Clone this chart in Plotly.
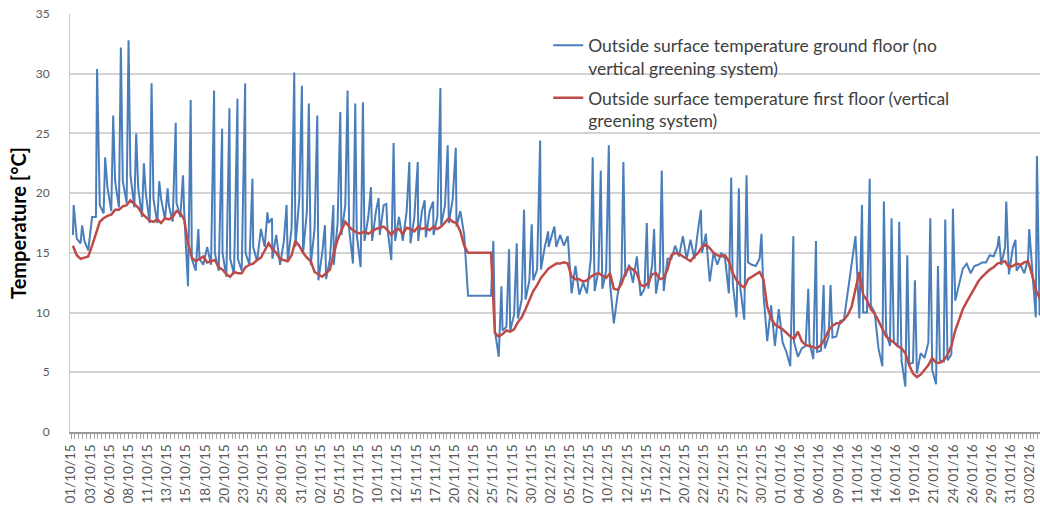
import plotly.graph_objects as go

# Category labels shown every 2.5 days along the time axis
tick_labels = [
    "01/10/15", "03/10/15", "06/10/15", "08/10/15", "11/10/15", "13/10/15", "15/10/15",
    "18/10/15", "20/10/15", "23/10/15", "25/10/15", "28/10/15", "31/10/15", "02/11/15",
    "05/11/15", "07/11/15", "10/11/15", "12/11/15", "15/11/15", "17/11/15", "20/11/15",
    "22/11/15", "25/11/15", "27/11/15", "30/11/15", "02/12/15", "05/12/15", "07/12/15",
    "10/12/15", "12/12/15", "15/12/15", "17/12/15", "20/12/15", "22/12/15", "25/12/15",
    "27/12/15", "30/12/15", "01/01/16", "04/01/16", "06/01/16", "09/01/16", "11/01/16",
    "14/01/16", "16/01/16", "19/01/16", "21/01/16", "24/01/16", "26/01/16", "29/01/16",
    "31/01/16", "03/02/16",
]

# First floor (vertical greening system): morning / evening readings per day [°C]
red_am = [
    15.6, 14.5, 14.7, 16.6, 17.9, 18.2, 18.6, 19.0, 19.1, 18.3,
    17.7, 17.8, 17.9, 18.0, 18.3, 15.8, 14.3, 14.7, 14.3, 13.8,
    13.2, 13.4, 13.3, 14.0, 14.4, 15.2, 15.3, 14.5, 14.3, 16.0,
    15.0, 14.3, 13.2, 13.3, 15.0, 16.9, 17.2, 16.7, 16.8, 16.8,
    17.1, 16.9, 16.9, 16.6, 17.0, 17.2, 17.1, 17.2, 17.2, 17.9,
    17.5, 15.6, 15.0, 15.0, 15.0, 8.3, 8.2, 8.4, 9.2, 10.3,
    11.8, 12.9, 13.7, 14.1, 14.2, 13.0, 12.8, 12.7, 13.2, 13.1,
    13.3, 11.9, 13.3, 13.6, 12.3, 12.5, 13.3, 12.9, 14.8, 14.9,
    14.5, 14.7, 15.5, 15.4, 14.8, 14.8, 13.3, 12.3, 12.8, 13.2,
    12.8, 9.5, 8.8, 8.3, 7.8, 7.6, 7.2, 7.0, 7.8, 8.9,
    9.1, 9.8, 12.0, 11.5, 10.3, 9.3, 8.0, 7.5, 7.0, 5.6,
    4.6, 5.2, 6.2, 5.8, 6.5, 8.5, 10.3, 11.5, 12.6, 13.3,
    13.8, 14.2, 13.8, 14.1, 14.2, 13.2, 11.2,
]
red_pm = [
    14.8, 14.6, 15.6, 17.6, 18.1, 18.6, 18.9, 19.4, 18.8, 18.0,
    17.6, 17.5, 17.8, 18.5, 17.8, 14.6, 14.5, 14.2, 14.4, 13.6,
    13.0, 13.3, 13.8, 14.1, 14.6, 15.8, 15.0, 14.4, 14.8, 15.6,
    14.6, 13.4, 13.0, 13.6, 16.1, 17.6, 16.9, 16.6, 16.6, 17.0,
    17.2, 16.5, 17.0, 17.1, 16.8, 17.0, 16.9, 17.0, 17.6, 17.6,
    16.8, 15.0, 15.0, 15.0, 15.0, 8.0, 8.5, 8.6, 9.6, 11.0,
    12.3, 13.3, 13.9, 14.1, 14.1, 12.8, 12.6, 13.0, 13.3, 12.9,
    12.0, 12.4, 13.8, 13.3, 12.2, 13.2, 12.8, 13.6, 15.0, 14.7,
    14.3, 15.0, 15.7, 15.0, 14.7, 14.3, 12.7, 12.1, 13.0, 13.4,
    10.5, 9.0, 8.6, 8.0, 8.4, 7.3, 7.1, 7.3, 8.5, 9.1,
    9.4, 10.5, 13.4, 11.0, 9.9, 8.6, 7.7, 7.2, 6.6, 4.9,
    4.8, 5.6, 5.8, 6.0, 7.2, 9.5, 10.9, 12.0, 13.0, 13.6,
    14.1, 14.3, 13.9, 14.0, 14.3, 11.9, 11.3,
]

# Ground floor (no vertical greening system): morning / evening readings per day [°C]
blue_am = [
    16.5, 15.8, 15.2, 18.0, 18.3, 18.5, 18.8, 19.2, 18.8, 18.0,
    17.5, 17.5, 17.8, 17.6, 18.0, 12.2, 13.5, 14.0, 14.0, 13.5,
    13.0, 13.2, 13.5, 14.0, 14.3, 15.5, 14.5, 14.0, 14.3, 15.5,
    15.0, 14.0, 12.7, 12.8, 14.0, 16.5, 17.0, 16.5, 16.0, 16.0,
    16.5, 17.0, 16.0, 16.0, 15.8, 16.0, 16.3, 16.5, 17.3, 17.5,
    17.2, 16.5, 11.4, 11.4, 11.4, 8.5, 8.5, 8.5, 9.5, 11.1,
    12.7, 13.6, 15.5, 15.5, 15.6, 11.6, 11.5, 11.6, 11.8, 12.0,
    12.5, 11.5, 13.0, 12.5, 11.4, 12.0, 11.6, 11.8, 14.5, 14.7,
    14.5, 14.5, 15.0, 12.6, 14.0, 14.5, 12.5, 12.0, 14.2, 13.9,
    11.6, 10.6, 10.3, 6.7, 7.5, 7.0, 7.5, 6.7, 7.0, 7.9,
    9.3, 11.6, 16.4, 10.0, 10.6, 7.0, 8.3, 7.5, 6.0, 5.7,
    4.9, 6.2, 5.2, 6.0, 6.0, 11.0, 13.7, 13.3, 14.0, 14.2,
    14.7, 14.0, 13.2, 13.5, 13.3, 14.0, 9.8,
]
blue_pm = [
    16.2, 16.0, 18.0, 19.0, 20.5, 21.0, 21.0, 21.5, 20.5, 20.0,
    19.5, 19.5, 19.0, 19.2, 18.5, 14.5, 14.5, 15.5, 15.0, 15.0,
    14.5, 14.5, 15.0, 15.5, 17.0, 17.5, 16.5, 16.0, 17.0, 19.5,
    18.5, 17.0, 15.0, 14.5, 17.5, 19.0, 14.1, 13.8, 18.0, 18.5,
    19.0, 14.4, 18.0, 18.5, 18.0, 18.5, 18.5, 18.0, 19.0, 19.5,
    18.5, 11.4, 11.4, 11.4, 11.4, 6.3, 8.8, 9.8, 11.1, 12.7,
    13.6, 15.5, 16.5, 16.5, 16.4, 13.9, 12.5, 14.5, 13.5, 13.5,
    9.1, 13.0, 14.0, 14.7, 12.0, 14.0, 13.5, 14.5, 15.6, 16.4,
    16.1, 17.0, 16.6, 15.0, 15.0, 11.6, 9.6, 9.4, 14.0, 14.5,
    7.6, 7.2, 7.5, 5.5, 6.3, 7.2, 6.1, 6.8, 8.0, 8.0,
    9.4, 13.9, 9.5, 10.0, 10.0, 5.5, 7.2, 7.2, 3.8, 5.8,
    6.6, 7.5, 4.0, 5.9, 6.5, 12.4, 14.1, 13.9, 14.2, 14.8,
    15.5, 15.5, 15.4, 14.0, 14.5, 9.6, 10.0,
]

# Short midday peaks of the ground-floor surface (time in days from 01/10/15, value °C)
spike_t = [
    0.35, 1.45, 3.4, 4.45, 5.5, 6.5, 7.5, 8.5, 9.5, 10.5,
    11.5, 12.6, 13.65, 14.6, 15.6, 16.6, 18.65, 19.7, 20.65, 21.7,
    22.7, 23.65, 25.6, 26.2, 28.1, 29.1, 30.1, 31.0, 32.1, 33.1,
    34.2, 35.1, 36.05, 37.05, 38.05, 39.1, 40.1, 41.1, 42.05, 44.1,
    45.2, 46.1, 47.2, 48.15, 49.1, 50.15, 55.05, 56.1, 57.1, 58.1,
    59.05, 60.05, 61.15, 62.2, 63.0, 68.0, 69.05, 70.1, 72.0, 75.05,
    76.0, 77.0, 82.1, 86.05, 87.05, 88.05, 90.0, 94.15, 96.1, 97.1,
    98.1, 99.0, 103.1, 104.1, 105.95, 106.95, 107.95, 109.0, 110.0, 112.0,
    113.0, 113.95, 114.95, 120.95, 121.9, 123.1, 124.9, 125.9,
]
spike_v = [
    19.0, 17.3, 30.4, 23.0, 26.5, 32.2, 32.8, 25.0, 22.5, 29.2,
    21.0, 20.4, 25.9, 21.5, 27.8, 17.0, 28.6, 25.4, 27.1, 27.9,
    29.2, 21.2, 18.4, 17.9, 19.0, 30.1, 29.0, 27.5, 26.5, 17.3,
    19.0, 26.8, 28.6, 27.5, 27.6, 20.5, 19.6, 19.1, 24.2, 22.6,
    22.6, 19.4, 19.3, 28.8, 24.0, 23.8, 16.0, 12.2, 15.3, 15.8,
    18.6, 17.4, 24.4, 16.8, 17.2, 23.0, 21.9, 24.0, 22.6, 17.5,
    17.0, 21.9, 18.6, 21.3, 20.4, 21.5, 16.6, 16.4, 12.0, 16.0,
    12.3, 12.3, 19.0, 21.2, 19.3, 17.9, 17.6, 14.8, 12.7, 17.9,
    13.9, 17.8, 18.7, 16.4, 19.3, 16.1, 17.0, 23.1,
]


def twice_daily(am, pm):
    """Place the morning and evening readings of each day on the time axis."""
    pts = []
    for d, v in enumerate(am):
        pts.append((d + 0.25, v))
    for d, v in enumerate(pm):
        pts.append((d + 0.75, v))
    return pts


red_pts = sorted(twice_daily(red_am, red_pm))
blue_pts = sorted(twice_daily(blue_am, blue_pm) + list(zip(spike_t, spike_v)))

BLUE = "#4a7ebb"
RED = "#be4b48"
GREY_TXT = "#595959"
FONT = "Lato, Carlito, 'Liberation Sans', sans-serif"

fig = go.Figure()
fig.add_trace(go.Scatter(
    x=[p[0] for p in blue_pts], y=[p[1] for p in blue_pts],
    mode="lines", line=dict(color=BLUE, width=2),
    name="Outside surface temperature ground floor (no<br>vertical greening system)",
    legendgroup="g1",
))
fig.add_trace(go.Scatter(
    x=[p[0] for p in red_pts], y=[p[1] for p in red_pts],
    mode="lines", line=dict(color=RED, width=2.5),
    name="Outside surface temperature first floor (vertical<br>greening system)",
    legendgroup="g2",
))

# White panel behind the legend, above the gridlines but below the series
fig.add_shape(
    type="rect", xref="paper", yref="paper",
    x0=0.469, x1=0.935, y0=0.69, y1=0.974,
    fillcolor="white", line=dict(width=0), layer="between",
)

fig.update_layout(
    width=1040, height=507,
    margin=dict(l=70, r=0, t=14, b=75),
    paper_bgcolor="white", plot_bgcolor="white",
    font=dict(family=FONT, color=GREY_TXT),
    showlegend=True,
    legend=dict(
        x=0.493, y=0.968, xanchor="left", yanchor="top",
        bgcolor="rgba(255,255,255,0)", borderwidth=0,
        font=dict(family=FONT, size=17.5, color="#404040"),
        valign="top", tracegroupgap=4, itemwidth=30,
    ),
    xaxis=dict(
        range=[-0.13, 126.3],
        tickmode="array",
        tickvals=[2.5 * k for k in range(len(tick_labels))],
        ticktext=tick_labels,
        tickangle=-90,
        tickfont=dict(family=FONT, size=13.5, color=GREY_TXT),
        showgrid=False, zeroline=False,
        showline=True, linecolor="#9a9a9a", linewidth=2,
        ticks="outside", ticklen=5, tickwidth=1, tickcolor="#9a9a9a",
        minor=dict(ticks="outside", ticklen=5, tickwidth=1, tickcolor="#a6a6a6",
                   tickmode="linear", tick0=0, dtick=0.5, showgrid=False),
    ),
    yaxis=dict(
        range=[0, 35], dtick=5, tick0=0,
        showgrid=True, gridcolor="#d3d3d3", gridwidth=1.5,
        zeroline=False,
        showline=True, linecolor="#c8c8c8", linewidth=1,
        ticks="", ticklabelstandoff=17,
        tickfont=dict(family=FONT, size=12, color=GREY_TXT),
        title=dict(text="Temperature [°C]", standoff=3,
                   font=dict(family=FONT, size=20, color="#000000", weight="bold")),
    ),
)

fig.write_html("out.html")
